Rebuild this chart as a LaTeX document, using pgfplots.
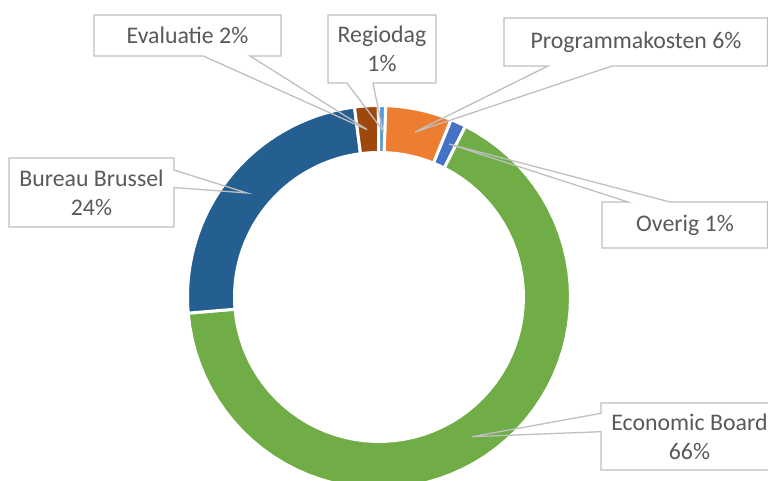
\documentclass[border=0pt]{standalone}
\usepackage{fontspec}
\setmainfont{Carlito}
\usepackage{pgfplots}
\usepackage{pgfplotstable}
\pgfplotsset{compat=1.18}
\definecolor{slice0}{HTML}{ED7D31}
\definecolor{slice1}{HTML}{4472C4}
\definecolor{slice2}{HTML}{70AD47}
\definecolor{slice3}{HTML}{255E91}
\definecolor{slice4}{HTML}{9E480E}
\definecolor{slice5}{HTML}{5B9BD5}
\definecolor{callout}{HTML}{BFBFBF}
\definecolor{labeltext}{HTML}{595959}

\pgfplotstableread{
name value
Programmakosten 5.6
Overig 1.3
EconomicBoard 66.2
BureauBrussel 24.3
Evaluatie 2.0
Regiodag 0.6
}\donutdata

\begin{document}
\begin{tikzpicture}
\useasboundingbox (0,0) rectangle (768bp,481bp);
\begin{axis}[
  x=1bp, y=1bp, xmin=0, xmax=768, ymin=0, ymax=481,
  hide axis, clip=true,
  declare function={
    dcx=379; dcy=184;
    dRo=191.5; dRi=144.5;
    dang(\t,\a,\b)=(\t<=1)*(\a+(\b-\a)*\t)+and(\t>1,\t<=2)*\b+(\t>2)*(\b-(\b-\a)*(\t-2));
    drad(\t)=(\t<=1)*dRo+and(\t>1,\t<=2)*(dRo-(dRo-dRi)*(\t-1))+(\t>2)*dRi;
  },
]
\path (axis cs:0,0) rectangle (axis cs:768,481);
\pgfmathsetmacro\cum{0}
\pgfplotsforeachungrouped \i in {0,...,5}{%
  \pgfplotstablegetelem{\i}{value}\of\donutdata
  \pgfmathsetmacro\aS{2+3.6*\cum}%
  \pgfmathsetmacro\cum{\cum+\pgfplotsretval}%
  \pgfmathsetmacro\aE{2+3.6*\cum}%
  \edef\doslice{\noexpand\addplot[fill=slice\i, draw=white, line width=3bp, line join=miter, domain=0:3, samples=181, variable=\noexpand\t]
    ({dcx+drad(\noexpand\t)*sin(dang(\noexpand\t,\aS,\aE))}, {dcy+drad(\noexpand\t)*cos(dang(\noexpand\t,\aS,\aE))}) -- cycle;}%
  \doslice
}
% callouts
\tikzset{co/.style={draw=callout, line width=1.3bp, line join=miter}}
\fill[white] (axis cs:94,466) rectangle (axis cs:281,425);
\draw[co] (axis cs:94,466)--(axis cs:281,466)--(axis cs:281,425)--(axis cs:250,425)--(axis cs:367,351.5)--(axis cs:203.3,425)--(axis cs:94,425)--cycle;
\fill[white] (axis cs:328,466) rectangle (axis cs:436,398);
\draw[co] (axis cs:328,466)--(axis cs:436,466)--(axis cs:436,398)--(axis cs:373,398)--(axis cs:382.5,351)--(axis cs:347,398)--(axis cs:328,398)--cycle;
\fill[white] (axis cs:504,463) rectangle (axis cs:767.5,415);
\draw[co] (axis cs:504,463)--(axis cs:767.5,463)--(axis cs:767.5,415)--(axis cs:612,415)--(axis cs:415,349)--(axis cs:548,415)--(axis cs:504,415)--cycle;
\fill[white] (axis cs:602,279) rectangle (axis cs:767.5,233);
\draw[co] (axis cs:602,279)--(axis cs:628,279)--(axis cs:449,337)--(axis cs:670,279)--(axis cs:767.5,279)--(axis cs:767.5,233)--(axis cs:602,233)--cycle;
\fill[white] (axis cs:9,323) rectangle (axis cs:174,254);
\draw[co] (axis cs:9,323)--(axis cs:174,323)--(axis cs:174,311)--(axis cs:247,288)--(axis cs:174,293.5)--(axis cs:174,254)--(axis cs:9,254)--cycle;
\fill[white] (axis cs:601,78) rectangle (axis cs:778,11);
\draw[co] (axis cs:601,78)--(axis cs:778,78)--(axis cs:778,11)--(axis cs:601,11)--(axis cs:601,49.3)--(axis cs:472,44.3)--(axis cs:601,67.7)--cycle;
% labels
\tikzset{lb/.style={text=labeltext, align=center, inner sep=0pt, font=\fontsize{23.9}{29}\selectfont}}
\node[lb] at (axis cs:187.5,445.5) {Evaluatie 2\%};
\node[lb] at (axis cs:382,432) {Regiodag\\1\%};
\node[lb] at (axis cs:636,439) {Programmakosten 6\%};
\node[lb] at (axis cs:685,256) {Overig 1\%};
\node[lb] at (axis cs:91.5,288.5) {Bureau Brussel\\24\%};
\node[lb] at (axis cs:689.5,44.5) {Economic Board\\66\%};
\end{axis}
\end{tikzpicture}
\end{document}
